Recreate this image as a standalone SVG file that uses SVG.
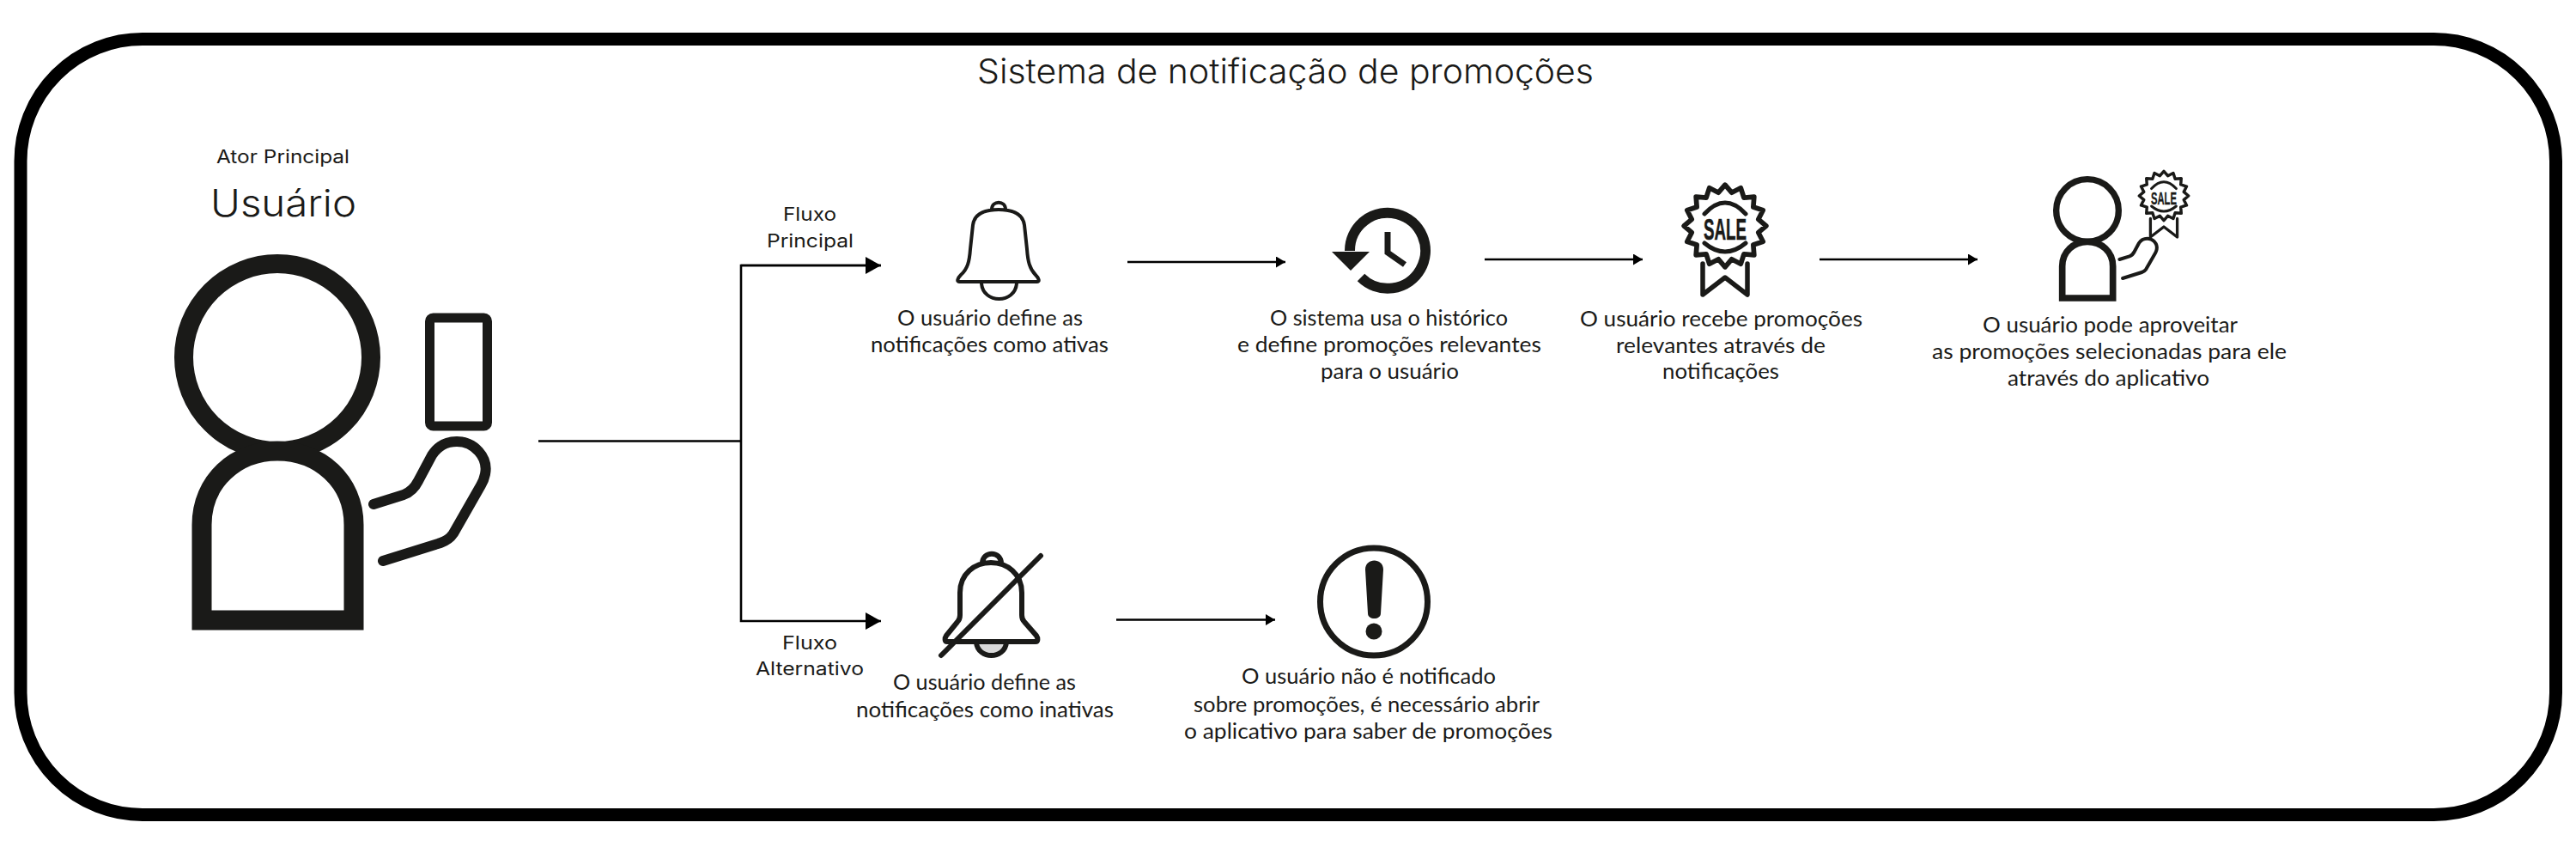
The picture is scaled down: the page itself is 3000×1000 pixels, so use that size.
<svg xmlns="http://www.w3.org/2000/svg" xmlns:xlink="http://www.w3.org/1999/xlink" width="3000" height="1000" viewBox="0 0 3000 1000">
<style>
text{fill:#1a1a18;font-family:"Lato","Noto Sans",sans-serif}
.d{font-size:25px;font-family:"Lato","Noto Sans",sans-serif}
.w{font-size:21px;font-family:"Inter","Noto Sans",sans-serif;font-weight:400}
.h{font-family:"Inter","Noto Sans",sans-serif;font-weight:350}
.i{fill:none;stroke:#1a1a18;stroke-linejoin:round;stroke-linecap:round}
.m{stroke-linejoin:miter;stroke-linecap:butt}
.c{fill:none;stroke:#000;stroke-width:2.6}
.s{font-family:"Liberation Sans",sans-serif;font-weight:700;font-size:35px;stroke:#1a1a18;stroke-width:.6}
</style>
<defs>
<marker id="a" markerUnits="userSpaceOnUse" markerWidth="18" markerHeight="22" refX="18" refY="10" orient="auto"><path d="M0 0L18 10L0 20z" fill="#000"/></marker>
<marker id="b" markerUnits="userSpaceOnUse" markerWidth="12" markerHeight="14" refX="11" refY="6.5" orient="auto"><path d="M0 0L11 6.5L0 13z" fill="#000"/></marker>
<g id="person">
<circle class="i" cx="323" cy="416" r="109" stroke-width="22"/>
<path class="i m" d="M235 722V611C235 560 275 525 323 525C372 525 412 560 412 611V722Z" stroke-width="23"/>
<path class="i" stroke-width="12" d="M435 587L470 576C478 573 483 568 487 560L503 530C510 519 520 514 532 514C552 514 569 532 565 552C564 557 563 560 560 565L528 621C524 627 519 630 513 632L446 653"/>
</g>
<g id="badge">
<polygon class="i" stroke-width="5.5" transform="scale(1.04)" points="46,0 37.3,7.4 42.5,17.6 31.6,21.1 32.5,32.5 21.1,31.6 17.6,42.5 7.4,37.3 0,46 -7.4,37.3 -17.6,42.5 -21.1,31.6 -32.5,32.5 -31.6,21.1 -42.5,17.6 -37.3,7.4 -46,0 -37.3,-7.4 -42.5,-17.6 -31.6,-21.1 -32.5,-32.5 -21.1,-31.6 -17.6,-42.5 -7.4,-37.3 0,-46 7.4,-37.3 17.6,-42.5 21.1,-31.6 32.5,-32.5 31.6,-21.1 42.5,-17.6 37.3,-7.4"/>
<path class="i" stroke-width="5" d="M-24 -14Q0 -40 24 -14M-24 20Q0 40 24 20"/>
<path class="i" stroke-width="5.5" d="M-26 44V80L0 60L26 80V44"/>
<text class="s" x="-25" y="16" textLength="50" lengthAdjust="spacingAndGlyphs">SALE</text>
</g>
</defs>
<rect id="frame" x="24" y="45.5" width="2952.5" height="903" rx="142" ry="142" fill="#fff" stroke="#000" stroke-width="15"/>
<text id="title" class="h" x="1138" y="97" font-size="40" textLength="718" lengthAdjust="spacingAndGlyphs">Sistema de notificação de promoções</text>

<g id="actor">
<text class="w" x="252" y="190" textLength="155" lengthAdjust="spacingAndGlyphs">Ator Principal</text>
<text class="h" x="245" y="252" font-size="44" textLength="170" lengthAdjust="spacingAndGlyphs">Usuário</text>
<use href="#person" xlink:href="#person"/>
<rect class="i" x="500.5" y="370" width="67" height="126" rx="4" stroke-width="11"/>
</g>

<g id="connectors">
<path class="c" d="M627 513.5H863"/>
<path class="c" d="M1026 309H863V723H1026" marker-end="url(#a)"/>
<path class="c" d="M863 309H1026" marker-end="url(#a)"/>
<path class="c" d="M1313 305H1497" marker-end="url(#b)"/>
<path class="c" d="M1729 302H1913" marker-end="url(#b)"/>
<path class="c" d="M2119 302H2303" marker-end="url(#b)"/>
<path class="c" d="M1300 721.5H1485" marker-end="url(#b)"/>
</g>

<g id="label-principal">
<text class="w" x="912" y="257" textLength="62" lengthAdjust="spacingAndGlyphs">Fluxo</text>
<text class="w" x="893" y="288" textLength="101" lengthAdjust="spacingAndGlyphs">Principal</text>
</g>
<g id="label-alternativo">
<text class="w" x="911" y="756" textLength="64" lengthAdjust="spacingAndGlyphs">Fluxo</text>
<text class="w" x="880" y="786" textLength="126" lengthAdjust="spacingAndGlyphs">Alternativo</text>
</g>

<g id="node-bell">
<path class="i" stroke-width="4" d="M1155 244C1155 233 1171 233 1171 244M1117 328C1114 328 1115 324 1119 320C1127 313 1129 304 1130 290L1133 262C1135 247 1150 244 1163 244C1177 244 1191 248 1193 262L1196 290C1197 304 1199 313 1206 320C1210 324 1211 328 1208 328Z"/>
<path class="i" stroke-width="4" d="M1143 330C1145 354 1182 354 1184 330"/>
<text class="d" x="1045" y="379" textLength="216" lengthAdjust="spacingAndGlyphs">O usuário define as</text>
<text class="d" x="1014" y="410" textLength="277" lengthAdjust="spacingAndGlyphs">notificações como ativas</text>
</g>

<g id="node-history">
<path class="i m" stroke-width="12" d="M1572 292A44 44 0 1 1 1585 323"/>
<path d="M1551 293H1595L1573 315Z" fill="#1a1a18"/>
<path class="i m" stroke-width="7" d="M1616 270V294L1636 308"/>
<text class="d" x="1479" y="379" textLength="277" lengthAdjust="spacingAndGlyphs">O sistema usa o histórico</text>
<text class="d" x="1441" y="410" textLength="354" lengthAdjust="spacingAndGlyphs">e define promoções relevantes</text>
<text class="d" x="1538" y="441" textLength="161" lengthAdjust="spacingAndGlyphs">para o usuário</text>
</g>

<g id="node-sale">
<use href="#badge" xlink:href="#badge" x="2009" y="263"/>
<text class="d" x="1840" y="380" textLength="329" lengthAdjust="spacingAndGlyphs">O usuário recebe promoções</text>
<text class="d" x="1882" y="411" textLength="244" lengthAdjust="spacingAndGlyphs">relevantes através de</text>
<text class="d" x="1936" y="441" textLength="136" lengthAdjust="spacingAndGlyphs">notificações</text>
</g>

<g id="node-benefit">
<use href="#person" xlink:href="#person" transform="translate(2431 245) scale(.3333) translate(-323 -416)"/>
<use href="#badge" xlink:href="#badge" transform="translate(2520 228) scale(.6)"/>
<text class="d" x="2309" y="387" textLength="297" lengthAdjust="spacingAndGlyphs">O usuário pode aproveitar</text>
<text class="d" x="2250" y="418" textLength="413" lengthAdjust="spacingAndGlyphs">as promoções selecionadas para ele</text>
<text class="d" x="2338" y="449" textLength="235" lengthAdjust="spacingAndGlyphs">através do aplicativo</text>
</g>

<g id="node-bell-off">
<path d="M1137 748C1139 768 1170 768 1172 748Z" fill="#d9d9d9"/>
<path class="i" stroke-width="6" d="M1144 656C1144 641 1166 641 1166 656M1103 747C1100 747 1100 743 1102 740L1115 724C1117 722 1118 720 1118 716V690C1118 668 1135 655 1154 655C1173 655 1190 668 1190 690V716C1190 720 1191 722 1193 724L1207 740C1209 743 1209 747 1206 747Z"/>
<path class="i" stroke-width="6" d="M1137 748C1139 768 1170 768 1172 748"/>
<path class="i" stroke-width="6" d="M1212 647L1096 763"/>
<text class="d" x="1040" y="803" textLength="213" lengthAdjust="spacingAndGlyphs">O usuário define as</text>
<text class="d" x="997" y="835" textLength="300" lengthAdjust="spacingAndGlyphs">notificações como inativas</text>
</g>

<g id="node-warning">
<circle class="i" cx="1600" cy="700.5" r="62.5" stroke-width="7"/>
<path d="M1590 663C1590 649 1611 649 1611 663L1608 714C1608 722 1593 722 1593 714Z" fill="#1a1a18"/>
<circle cx="1600" cy="735" r="9.5" fill="#1a1a18"/>
<text class="d" x="1446" y="796" textLength="296" lengthAdjust="spacingAndGlyphs">O usuário não é notificado</text>
<text class="d" x="1390" y="829" textLength="403" lengthAdjust="spacingAndGlyphs">sobre promoções, é necessário abrir</text>
<text class="d" x="1379" y="860" textLength="429" lengthAdjust="spacingAndGlyphs">o aplicativo para saber de promoções</text>
</g>
</svg>
